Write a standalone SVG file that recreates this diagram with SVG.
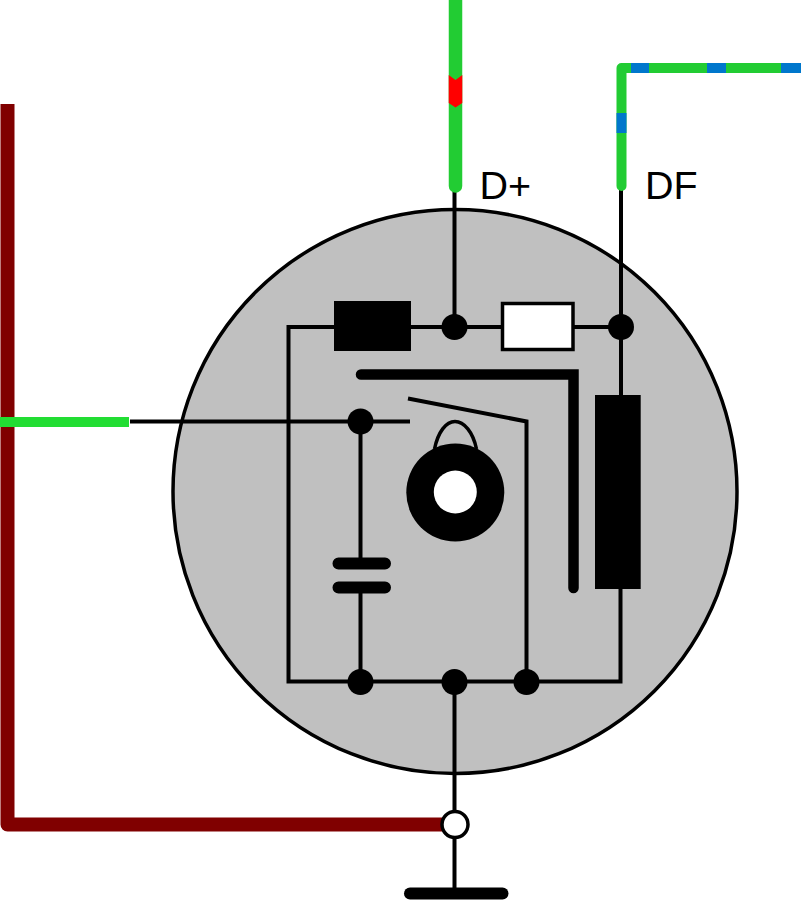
<svg xmlns="http://www.w3.org/2000/svg" width="801" height="900" viewBox="0 0 801 900">
<style>
.w{fill:none;stroke:#000;stroke-width:4;stroke-linejoin:miter}
.g{fill:none;stroke:#22cc33;stroke-linecap:round;stroke-linejoin:round}
.b{fill:none;stroke:#0077cc;stroke-width:10}
.d{fill:#000}
.t{font-family:"Liberation Sans",Arial,sans-serif;font-size:39.5px;fill:#000}
</style>
<rect width="801" height="900" fill="#fff"/>
<g id="housing"><circle cx="455" cy="491.5" r="282" fill="#c0c0c0" stroke="#000" stroke-width="3.5"/></g>
<g id="connectors">
<path d="M7.5 104V824.5H445" fill="none" stroke="#800000" stroke-width="14" stroke-linejoin="round"/>
<path class="w" d="M130 421.5H410"/>
<path class="w" d="M454.5 190V327"/>
<path class="w" d="M621 190V395"/>
<path class="w" d="M334 327H288.5V681.5H620.5V589"/>
<path class="w" d="M410 327H501"/>
<path class="w" d="M574 327H621"/>
<path class="w" d="M360.5 421.5V563"/>
<path class="w" d="M360.5 588V681.5"/>
<path class="w" d="M454.5 681.5V893"/>
<path class="w" d="M526.5 681.5V421.5L408 398.5"/>
<path class="g" d="M455.5 -10V186" stroke-width="13.5"/>
<path d="M448.7 75L455.5 80L462.3 75V103L455.5 107.500L448.7 103Z" fill="#f00"/>
<path class="g" d="M621.5 186V68H811" stroke-width="10"/>
<path class="b" d="M621.5 113V133"/>
<path class="b" d="M631 68H649"/>
<path class="b" d="M707 68H726"/>
<path class="b" d="M781 68H801"/>
<path d="M0 422H129" fill="none" stroke="#22dd33" stroke-width="10"/>
</g>
<g id="resistor-black"><rect class="d" x="334" y="301" width="77" height="50"/></g>
<g id="resistor-white"><rect x="502.5" y="303.5" width="70.5" height="46" fill="#fff" stroke="#000" stroke-width="3.5"/></g>
<g id="junction-d-plus"><circle class="d" cx="454.5" cy="327" r="13"/></g>
<g id="junction-df"><circle class="d" cx="621" cy="327" r="13"/></g>
<g id="junction-input"><circle class="d" cx="360.5" cy="421.5" r="13"/></g>
<g id="junction-bottom-left"><circle class="d" cx="360.5" cy="682" r="13"/></g>
<g id="junction-bottom-mid"><circle class="d" cx="454.5" cy="682" r="13"/></g>
<g id="junction-bottom-right"><circle class="d" cx="526.5" cy="682" r="13"/></g>
<g id="armature"><path d="M361 374.5H573.5V588" fill="none" stroke="#000" stroke-width="10.5" stroke-linecap="round" stroke-linejoin="miter"/></g>
<g id="coil"><rect class="d" x="595" y="395" width="45.7" height="194"/></g>
<g id="relay-core">
<path d="M434.5 449C438 432 446 421.5 455 421.5C464 421.5 473 432 476.5 449" fill="none" stroke="#000" stroke-width="3.5"/>
<circle class="d" cx="455.3" cy="492.5" r="49"/>
<circle cx="455.3" cy="492" r="21.5" fill="#fff"/>
</g>
<g id="capacitor">
<path d="M338.5 563.5H385M338.5 587.500H385" fill="none" stroke="#000" stroke-width="12" stroke-linecap="round"/>
</g>
<g id="terminal"><circle cx="455" cy="824.5" r="13" fill="#fff" stroke="#000" stroke-width="3.5"/></g>
<g id="ground"><path d="M410 893.5H502.5" fill="none" stroke="#000" stroke-width="12" stroke-linecap="round"/></g>
<g id="label-d-plus"><text class="t" x="479.5" y="199">D+</text></g>
<g id="label-df"><text class="t" x="645" y="199">DF</text></g>
</svg>
